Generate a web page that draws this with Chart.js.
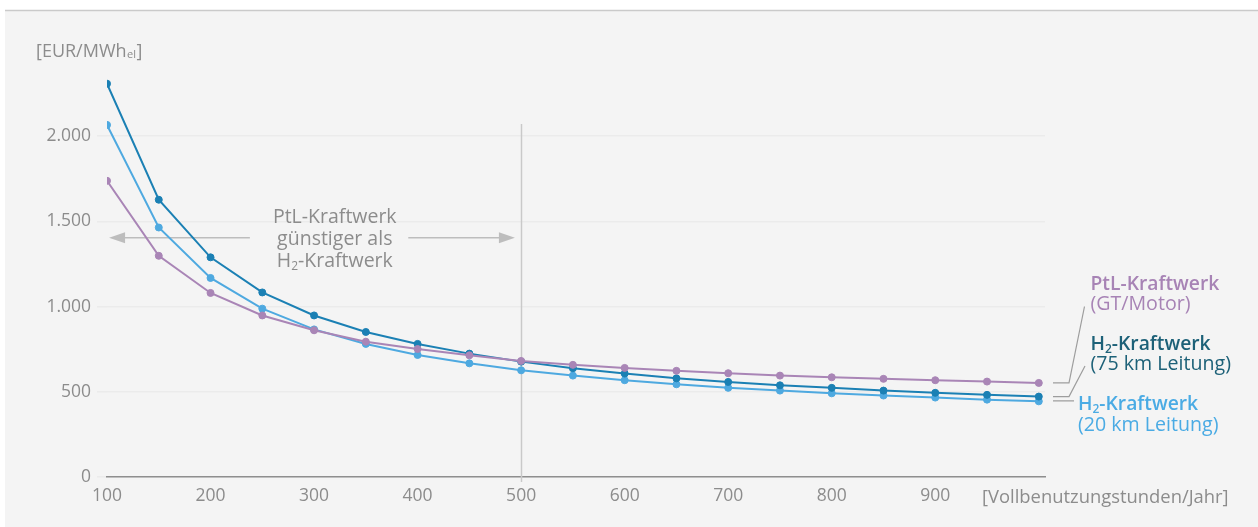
<!DOCTYPE html>
<html lang="de">
<head>
<meta charset="utf-8">
<title>Stromgestehungskosten nach Vollbenutzungsstunden</title>
<script src="https://cdn.jsdelivr.net/npm/chart.js@4.4.1/dist/chart.umd.min.js"></script>
<style>
  html, body { margin: 0; padding: 0; background: #ffffff; }
  #wrap { position: relative; width: 1258px; height: 527px; }
  canvas { display: block; }
</style>
</head>
<body>
<div id="wrap"><canvas id="chart" width="1258" height="527"></canvas></div>
<script>
// Vollbenutzungsstunden pro Jahr
const hours = [100, 150, 200, 250, 300, 350, 400, 450, 500, 550, 600, 650, 700, 750, 800, 850, 900, 950, 1000];

// Stromgestehungskosten in EUR/MWh_el
const ptlKraftwerk = [1738, 1298, 1080, 948, 861, 794, 751, 714, 681, 658, 640, 623, 609, 595, 585, 576, 568, 560, 552];
const h2Kraftwerk75 = [2308, 1627, 1289, 1083, 948, 851, 781, 724, 677, 638, 607, 579, 558, 538, 523, 507, 494, 482, 472];
const h2Kraftwerk20 = [2066, 1464, 1168, 988, 866, 781, 716, 667, 626, 595, 568, 544, 523, 507, 491, 478, 466, 454, 444];

// Achsenbeschriftung
const yTickValues = [0, 500, 1000, 1500, 2000];
const yTickLabels = ['0', '500', '1.000', '1.500', '2.000'];
const xTickValues = [100, 200, 300, 400, 500, 600, 700, 800, 900];
const xTickLabels = ['100', '200', '300', '400', '500', '600', '700', '800', '900'];
const yUnitLabel = ['[EUR/MWh', 'el', ']'];
const xUnitLabel = '[Vollbenutzungstunden/Jahr]';

// Hinweis und Reihenbezeichnungen
const breakEvenHours = 500;
const noteLines = ['PtL-Kraftwerk', 'günstiger als', 'H₂-Kraftwerk'];
const seriesTitles = ['PtL-Kraftwerk', 'H₂-Kraftwerk', 'H₂-Kraftwerk'];
const seriesSubtitles = ['(GT/Motor)', '(75 km Leitung)', '(20 km Leitung)'];

const FONT = "'Open Sans', 'Noto Sans', sans-serif";
const GREY_TEXT = '#8c8c8c';
const COLORS = {
  ptl: '#a985b6',
  h2_75: '#1b80b4',
  h2_20: '#4ea9e0'
};
const LABEL_COLORS = ['#a783b5', '#1d6178', '#4aabe4'];

// draws text where '₂' is rendered as a small lowered "2"
function drawRich(ctx, text, x, y, size, weight, align) {
  const parts = text.split('₂');
  const main = weight + ' ' + size + 'px ' + FONT;
  const sub = weight + ' ' + Math.round(size * 0.62) + 'px ' + FONT;
  const pieces = [];
  parts.forEach((p, i) => {
    if (i > 0) pieces.push({ t: '2', f: sub, dy: size * 0.18 });
    if (p) pieces.push({ t: p, f: main, dy: 0 });
  });
  let total = 0;
  pieces.forEach(pc => { ctx.font = pc.f; pc.w = ctx.measureText(pc.t).width; total += pc.w; });
  let cx = align === 'center' ? x - total / 2 : x;
  ctx.textAlign = 'left';
  ctx.textBaseline = 'alphabetic';
  pieces.forEach(pc => { ctx.font = pc.f; ctx.fillText(pc.t, cx, y + pc.dy); cx += pc.w; });
}

const decorations = {
  id: 'decorations',
  beforeDraw(chart) {
    const ctx = chart.ctx;
    ctx.save();
    ctx.fillStyle = '#ffffff';
    ctx.fillRect(0, 0, chart.width, chart.height);
    ctx.fillStyle = '#f4f4f4';
    ctx.fillRect(5, 10, chart.width - 5, chart.height - 10);
    ctx.strokeStyle = '#cacaca';
    ctx.lineWidth = 1.5;
    ctx.beginPath();
    ctx.moveTo(5, 10.5);
    ctx.lineTo(chart.width, 10.5);
    ctx.stroke();
    ctx.restore();
  },
  beforeDatasetsDraw(chart) {
    const ctx = chart.ctx;
    const x = chart.scales.x, y = chart.scales.y;
    ctx.save();
    // Grenze bei 500 Vollbenutzungsstunden
    const vx = Math.round(x.getPixelForValue(breakEvenHours)) + 0.5;
    ctx.strokeStyle = '#c9c9c9';
    ctx.lineWidth = 1.5;
    ctx.beginPath();
    ctx.moveTo(vx, y.getPixelForValue(2072));
    ctx.lineTo(vx, chart.chartArea.bottom + 5);
    ctx.stroke();

    // Pfeile links/rechts
    const ay = y.getPixelForValue(1404);
    const lTip = x.getPixelForValue(102);
    const rTip = x.getPixelForValue(494);
    ctx.strokeStyle = '#bdbdbd';
    ctx.fillStyle = '#bdbdbd';
    ctx.lineWidth = 1.5;
    ctx.beginPath();
    ctx.moveTo(lTip + 14, ay); ctx.lineTo(x.getPixelForValue(238), ay);
    ctx.moveTo(x.getPixelForValue(391), ay); ctx.lineTo(rTip - 14, ay);
    ctx.stroke();
    ctx.beginPath();
    ctx.moveTo(lTip, ay); ctx.lineTo(lTip + 16, ay - 5.5); ctx.lineTo(lTip + 16, ay + 5.5); ctx.closePath();
    ctx.moveTo(rTip, ay); ctx.lineTo(rTip - 16, ay - 5.5); ctx.lineTo(rTip - 16, ay + 5.5); ctx.closePath();
    ctx.fill();

    // Hinweistext
    ctx.fillStyle = GREY_TEXT;
    const tx = x.getPixelForValue(320);
    noteLines.forEach((line, i) => drawRich(ctx, line, tx, 222.5 + i * 22, 19.5, '400', 'center'));
    ctx.restore();
  },
  afterDraw(chart) {
    const ctx = chart.ctx;
    const area = chart.chartArea;
    ctx.save();
    // Einheiten
    ctx.fillStyle = GREY_TEXT;
    ctx.textBaseline = 'alphabetic';
    ctx.textAlign = 'left';
    ctx.font = '400 18px ' + FONT;
    let ux = 36;
    ctx.fillText(yUnitLabel[0], ux, 57);
    ux += ctx.measureText(yUnitLabel[0]).width;
    ctx.font = '400 11px ' + FONT;
    ctx.fillText(yUnitLabel[1], ux + 0.5, 58);
    ux += ctx.measureText(yUnitLabel[1]).width + 1;
    ctx.font = '400 18px ' + FONT;
    ctx.fillText(yUnitLabel[2], ux, 57);
    ctx.font = '400 18.4px ' + FONT;
    ctx.fillText(xUnitLabel, 982, 503);

    // Verbindungslinien zu den Reihenbezeichnungen
    const metas = [0, 1, 2].map(i => chart.getDatasetMeta(i));
    const lastY = metas.map(m => m.data[m.data.length - 1].y);
    const x0 = area.right + 8, x1 = area.right + 24;
    ctx.strokeStyle = '#9d9d9d';
    ctx.lineWidth = 1.2;
    ctx.beginPath();
    ctx.moveTo(x0, lastY[0]); ctx.lineTo(x1, lastY[0]); ctx.lineTo(x1 + 15.5, 306.5);
    ctx.moveTo(x0, lastY[1]); ctx.lineTo(x1, lastY[1]); ctx.lineTo(x1 + 16, 366);
    ctx.moveTo(x0, lastY[2] - 0.5); ctx.lineTo(x1 + 5, lastY[2] - 0.5);
    ctx.stroke();

    // Reihenbezeichnungen
    const pos = [
      { x: 1090.5, y: 289.5 },
      { x: 1090.5, y: 349.5 },
      { x: 1078, y: 410 }
    ];
    pos.forEach((p, i) => {
      ctx.fillStyle = LABEL_COLORS[i];
      drawRich(ctx, seriesTitles[i], p.x, p.y, 19.3, '600', 'left');
      drawRich(ctx, seriesSubtitles[i], p.x, p.y + 20.5, 19.6, '400', 'left');
    });
    ctx.restore();
  }
};

const lineStyle = (label, data, color) => ({
  label,
  data: hours.map((h, i) => ({ x: h, y: data[i] })),
  borderColor: color,
  backgroundColor: color,
  pointBackgroundColor: color,
  pointBorderColor: color,
  borderWidth: 2,
  pointRadius: 3.5,
  pointBorderWidth: 1,
  tension: 0,
  fill: false
});

new Chart(document.getElementById('chart'), {
  type: 'line',
  data: {
    datasets: [
      lineStyle('PtL-Kraftwerk (GT/Motor)', ptlKraftwerk, COLORS.ptl),
      lineStyle('H₂-Kraftwerk (75 km Leitung)', h2Kraftwerk75, COLORS.h2_75),
      lineStyle('H₂-Kraftwerk (20 km Leitung)', h2Kraftwerk20, COLORS.h2_20)
    ]
  },
  options: {
    responsive: false,
    animation: false,
    events: [],
    layout: { padding: { top: 68, right: 213, bottom: 0, left: 0 } },
    plugins: { legend: { display: false }, tooltip: { enabled: false } },
    scales: {
      x: {
        type: 'linear',
        min: 100,
        max: 1006,
        afterBuildTicks(scale) { scale.ticks = xTickValues.map(v => ({ value: v })); },
        afterFit(scale) { scale.height = 50; },
        grid: { display: false, drawTicks: false },
        border: { display: true, color: '#8e8e8e', width: 1.5 },
        ticks: {
          autoSkip: false,
          maxRotation: 0,
          padding: 9,
          color: GREY_TEXT,
          font: { family: FONT, size: 17.5 },
          callback: (v, i) => xTickLabels[i]
        }
      },
      y: {
        min: 0,
        max: 2400,
        afterBuildTicks(scale) { scale.ticks = yTickValues.map(v => ({ value: v })); },
        afterFit(scale) { scale.width = 107; },
        grid: { color: '#ebebeb', lineWidth: 1.5, tickLength: 10, drawTicks: true },
        border: { display: false },
        ticks: {
          padding: 6,
          color: GREY_TEXT,
          font: { family: FONT, size: 17.5 },
          callback: (v, i) => yTickLabels[i]
        }
      }
    }
  },
  plugins: [decorations]
});
</script>
</body>
</html>
